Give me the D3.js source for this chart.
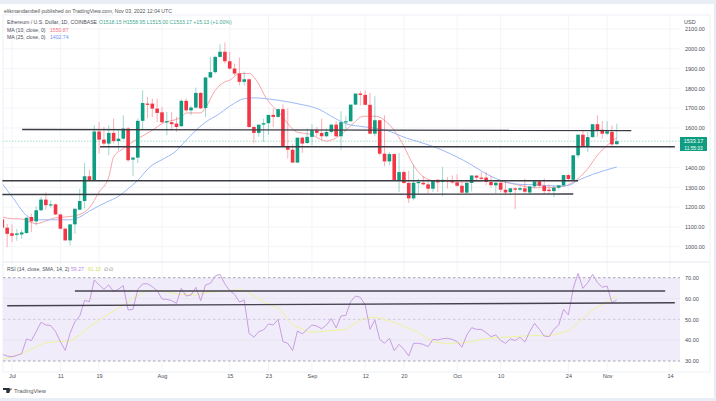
<!DOCTYPE html>
<html>
<head>
<meta charset="utf-8">
<script src="https://cdn.jsdelivr.net/npm/d3@7"></script>
<style>
  html, body { margin: 0; padding: 0; background: #e9edf5; overflow: hidden; }
  svg { display: block; font-family: "Liberation Sans", Arial, sans-serif; }
  .axis path, .axis line { display: none; }
  .axis text { fill: #4a4e59; font-size: 5.5px; font-family: "Liberation Sans", Arial, sans-serif; }
</style>
</head>
<body>
<script>
// days counted from 1 Jul 2022, first candle is 29 Jun
const firstDay = -2

const candleOpen = [
  1138,1096,1068,1060,1062,1069,1150,1128,1184,1238,
  1209,1214,1163,1091,1032,1113,1187,1231,1356,1335,
  1582,1541,1521,1575,1534,1546,1597,1440,1450,1636,
  1723,1723,1698,1679,1628,1629,1622,1609,1737,1689,
  1703,1777,1701,1855,1882,1959,1985,1937,1900,1875,
  1833,1846,1605,1575,1617,1624,1666,1656,1695,1509,
  1490,1425,1551,1524,1555,1588,1575,1558,1580,1617,
  1558,1629,1634,1718,1774,1767,1717,1571,1639,1470,
  1431,1468,1335,1377,1322,1244,1322,1323,1315,1293,
  1338,1327,1337,1335,1325,1308,1273,1322,1359,1349,
  1349,1327,1310,1323,1288,1276,1295,1288,1295,1274,
  1305,1330,1308,1288,1281,1298,1310,1362,1338,1462,
  1566,1509,1554,1619,1591,1571,1580,1518]
const candleHigh = [
  1142,1116,1113,1090,1085,1150,1167,1204,1251,1275,
  1234,1218,1166,1095,1095,1120,1293,1423,1389,1613,
  1630,1605,1613,1647,1588,1664,1605,1453,1647,1790,
  1757,1748,1748,1706,1681,1681,1656,1745,1749,1712,
  1804,1782,1858,1959,1965,2023,2032,1985,1925,1956,
  1885,1850,1610,1580,1647,1647,1698,1698,1720,1698,
  1520,1515,1555,1597,1619,1605,1647,1597,1597,1635,
  1684,1659,1642,1720,1787,1790,1777,1760,1642,1664,
  1478,1472,1474,1385,1383,1411,1344,1357,1335,1335,
  1340,1403,1352,1360,1365,1328,1335,1327,1362,1377,
  1377,1358,1330,1327,1330,1296,1300,1305,1344,1300,
  1307,1338,1345,1314,1310,1305,1312,1367,1367,1470,
  1592,1580,1572,1664,1635,1635,1613,1622,1555]
const candleLow = [
  1090,998,1023,1030,1040,1065,1074,1108,1180,1187,
  1197,1160,1087,1030,1006,1065,1184,1192,1332,1330,
  1470,1512,1462,1521,1487,1541,1430,1357,1423,1592,
  1647,1655,1630,1625,1563,1588,1580,1605,1681,1664,
  1697,1695,1656,1853,1875,1955,1925,1895,1865,1815,
  1815,1600,1524,1555,1529,1565,1605,1652,1505,1445,
  1425,1422,1474,1520,1512,1558,1540,1553,1572,1555,
  1490,1588,1630,1715,1714,1715,1568,1558,1462,1406,
  1411,1332,1276,1318,1221,1235,1268,1310,1271,1277,
  1276,1254,1294,1318,1301,1271,1266,1280,1335,1330,
  1310,1300,1270,1275,1260,1262,1190,1280,1270,1268,
  1295,1300,1268,1270,1250,1290,1304,1330,1335,1450,
  1503,1478,1550,1555,1546,1563,1504,1515]
const candleClose = [
  1096,1065,1055,1067,1072,1146,1128,1184,1238,1210,
  1214,1163,1091,1032,1113,1192,1231,1356,1335,1582,
  1541,1521,1575,1534,1546,1597,1437,1450,1636,1726,
  1720,1698,1676,1629,1634,1619,1605,1737,1689,1703,
  1777,1699,1855,1882,1959,1985,1937,1900,1875,1833,
  1846,1605,1575,1617,1624,1666,1656,1695,1509,1490,
  1425,1551,1521,1555,1588,1575,1558,1580,1617,1558,
  1629,1634,1718,1774,1767,1717,1571,1639,1470,1431,
  1468,1335,1377,1322,1244,1323,1327,1315,1293,1335,
  1325,1338,1334,1325,1308,1273,1322,1360,1349,1347,
  1327,1311,1323,1288,1274,1295,1288,1296,1278,1305,
  1330,1308,1281,1281,1298,1310,1362,1342,1462,1566,
  1509,1554,1619,1588,1571,1583,1517,1533]

// MA values read every few days, day and value kept in two arrays
const ma10Days = [-2,0,2,4,5,7,9,11,14,16,18,20,21,23,26,29,31,35,36,39,40,42,44,45,47,49,50.5,52.6,55.4,57,58.8,61.6,65,67.8,70.5,72.6,75.3,77.4,79.5,80.9,83,85.7,87.7,94.6,98,101,104,108,111,114,117,119,121,123,125]
const ma10Values = [1150,1141,1140,1122,1116,1130,1146,1150,1163,1197,1276,1352,1453,1496,1546,1588,1622,1655,1676,1676,1703,1790,1833,1841,1875,1875,1841,1748,1672,1622,1580,1568,1534,1563,1622,1659,1659,1630,1571,1512,1411,1343,1332,1327,1335,1330,1315,1298,1298,1305,1344,1394,1462,1512,1550]
const ma25Days = [-2,0.3,3,5,8,12,14,16,19.6,22,24,26,28.5,31,33.7,36,38,40.6,42.4,45,48,50,55,59.5,63.6,66,69,73,77.4,81.5,86.4,92,94.6,97.4,101,105,108.4,112.5,115,117,120,125]
const ma25Values = [1318,1243,1158,1136,1136,1136,1150,1180,1226,1254,1293,1335,1403,1440,1479,1538,1588,1639,1664,1710,1748,1752,1740,1720,1693,1659,1622,1605,1588,1549,1512,1453,1419,1377,1335,1315,1313,1306,1310,1335,1365,1403]

const rsiValues = [33.2,32.4,32,32.7,33.5,40.6,39.8,44.1,48.6,47.3,47,44.1,39.3,35.1,43.3,48.9,51.6,59.1,58.5,68.9,66.5,64.4,66.5,63.3,64.4,66.2,54.5,54.8,64.4,67,67.1,65.7,63.8,59.8,59.6,59,57.7,64.9,61.2,61.7,65.4,59,66.5,67.3,70.8,71.6,67,63.8,62,58.3,59.3,43.3,41.4,44.1,44.9,47.8,47.3,50,39.3,38.5,35,44.4,43,45.2,47.3,46.8,45.5,47.3,50.3,45.9,51.6,51.9,58.5,61.2,60.6,56.9,45.2,49.7,40.4,38.5,40.9,35,38,35.6,32.4,38.5,38.5,38,36.9,40.4,40.1,40.7,40.9,40.4,39.3,36.6,42.5,46,45.2,45.2,43.6,41.7,42.5,39.8,38.5,40.6,39.8,41.4,39.1,44.1,48.1,45.2,42,41.7,45.2,47.3,54.8,52.1,64.9,72.1,64.9,67.6,71.6,67.6,65.4,66,58,59.3]
const rsiMaDays = [-2,0,3,6.5,9,12,14,16,19,22,25,28,31,34,38,40,43,46,48,52,55.4,58,61.6,65,69,72.6,75.4,79.5,83.6,87,90,94.6,97.4,101.5,108,111,115,118,120,123,125]
const rsiMaValues = [30.8,32.1,34.5,38.5,39.3,39.6,42.5,46.5,51.3,55.3,60.1,63.8,63.8,62.2,61.7,63,63.3,64.1,64.1,58.5,54.8,47.3,43.8,44.4,45.2,50.5,51,48.1,44.1,39.3,38.2,39,40.6,41.4,42.3,42,44.4,50.5,54.5,58.5,61.2]

// hand drawn lines on the published chart: [day from, price from, day to, price to]
const priceLines = [
  [2.1, 1592, 128, 1587],
  [18.2, 1505, 137, 1505],
  [-2, 1333, 117, 1333],
  [-2, 1264, 116, 1266]
]
const rsiLines = [
  [13, 63.6, 135, 63.6],
  [-1, 56.5, 137, 58]
]

const priceTicks = [1000,1100,1200,1300,1400,1500,1600,1700,1800,1900,2000,2100]
// 1500 sits behind the last price label, so it gets no text
const priceLabels = priceTicks.filter(d => d != 1500)
const rsiTicks = [30,40,50,60,70]
const dayTicks = [0,10,18,31,45,53,62,73,81,92,101,115,123,136]
const dayLabels = ['Jul','11','19','Aug','15','23','Sep','12','20','Oct','10','24','Nov','14']

const width = 716
const height = 401
const plot = {left: 3, right: 680, top: 15, bottom: 262, rsiBottom: 372}

const green = '#0f9d82'
const red = '#f23645'
const textColor = '#4a4e59'
const labelSize = 5.15

const svg = d3.select('body').append('svg')
  .attr('width', width)
  .attr('height', height)

// page and card
svg.append('rect').attr('x', 0).attr('y', 4).attr('width', 714).attr('height', 394).attr('fill', '#fff')
svg.append('rect').attr('x', 3).attr('y', 15).attr('width', 707).attr('height', 357)
  .attr('fill', 'none').attr('stroke', '#eef0f5')

const xScale = d3.scaleLinear().domain([0, 136]).range([12, 670])
const yScale = d3.scaleLinear().domain([1000, 2100]).range([246.7, 29])
const rsiScale = d3.scaleLinear().domain([30, 70]).range([361, 277.7])

const clip = svg.append('clipPath').attr('id', 'plot-clip')
clip.append('rect').attr('x', plot.left).attr('y', plot.top)
  .attr('width', plot.right - plot.left).attr('height', plot.rsiBottom - plot.top)

// grid
const grid = svg.append('g').attr('stroke', '#f3f4f8')
grid.selectAll('line.v')
  .data(dayTicks)
  .enter()
  .append('line')
  .attr('x1', d => xScale(d)).attr('x2', d => xScale(d))
  .attr('y1', plot.top).attr('y2', plot.rsiBottom)
grid.selectAll('line.h')
  .data(priceTicks)
  .enter()
  .append('line')
  .attr('x1', plot.left).attr('x2', plot.right)
  .attr('y1', d => yScale(d)).attr('y2', d => yScale(d))

svg.append('line').attr('x1', 3).attr('x2', 710).attr('y1', plot.bottom).attr('y2', plot.bottom)
  .attr('stroke', '#e6e8ee')

// rsi band
svg.append('rect')
  .attr('x', plot.left).attr('width', plot.right - plot.left)
  .attr('y', rsiScale(70)).attr('height', rsiScale(30) - rsiScale(70))
  .attr('fill', '#f1ecfa')
svg.append('g').selectAll('line')
  .data(rsiTicks)
  .enter()
  .append('line')
  .attr('x1', plot.left).attr('x2', plot.right)
  .attr('y1', d => rsiScale(d)).attr('y2', d => rsiScale(d))
  .attr('stroke', d => d == 50 ? '#cfc8dc' : d == 70 || d == 30 ? '#a8a4b0' : '#e8e6ef')
  .attr('stroke-dasharray', d => d == 40 || d == 60 ? null : '2.5 2.5')

const chart = svg.append('g').attr('clip-path', 'url(#plot-clip)')

// current price line
chart.append('line')
  .attr('x1', plot.left).attr('x2', plot.right)
  .attr('y1', yScale(1533.17)).attr('y2', yScale(1533.17))
  .attr('stroke', '#a9dccf').attr('stroke-dasharray', '1.5 1.5')

// ma lines
const line = d3.line().x(d => xScale(d[0])).y(d => yScale(d[1])).curve(d3.curveMonotoneX)
chart.append('path')
  .attr('d', line(ma10Days.map((d, i) => [d, ma10Values[i]])))
  .attr('fill', 'none').attr('stroke', '#f8a5aa').attr('stroke-width', 1)
chart.append('path')
  .attr('d', line(ma25Days.map((d, i) => [d, ma25Values[i]])))
  .attr('fill', 'none').attr('stroke', '#9db9f7').attr('stroke-width', 1)

// candles
const candles = candleOpen.map((o, i) => ({
  day: firstDay + i, open: o, close: candleClose[i], high: candleHigh[i], low: candleLow[i]
}))
const candleColor = d => d.close >= d.open ? green : red

chart.append('g').selectAll('line')
  .data(candles)
  .enter()
  .append('line')
  .attr('x1', d => xScale(d.day)).attr('x2', d => xScale(d.day))
  .attr('y1', d => yScale(d.high)).attr('y2', d => yScale(d.low))
  .attr('stroke', candleColor).attr('stroke-opacity', 0.4).attr('stroke-width', 1)

chart.append('g').selectAll('rect')
  .data(candles)
  .enter()
  .append('rect')
  .attr('x', d => xScale(d.day) - 1.8)
  .attr('width', 3.6)
  .attr('y', d => yScale(Math.max(d.open, d.close)))
  .attr('height', d => Math.max(1.2, Math.abs(yScale(d.open) - yScale(d.close))))
  .attr('fill', candleColor)

// rsi lines
const rsiLine = d3.line().x(d => xScale(d[0])).y(d => rsiScale(d[1]))
chart.append('path')
  .attr('d', rsiLine(rsiMaDays.map((d, i) => [d, rsiMaValues[i]])))
  .attr('fill', 'none').attr('stroke', '#eef39c').attr('stroke-width', 1)
chart.append('path')
  .attr('d', rsiLine(rsiValues.map((v, i) => [firstDay + i, v])))
  .attr('fill', 'none').attr('stroke', '#c79fe3').attr('stroke-width', 1)

// hand drawn lines
svg.append('g').selectAll('line')
  .data(priceLines)
  .enter()
  .append('line')
  .attr('x1', d => xScale(d[0])).attr('x2', d => xScale(d[2]))
  .attr('y1', d => yScale(d[1])).attr('y2', d => yScale(d[3]))
  .attr('stroke', '#3a3c44').attr('stroke-width', 1.4)
svg.append('g').selectAll('line')
  .data(rsiLines)
  .enter()
  .append('line')
  .attr('x1', d => xScale(d[0])).attr('x2', d => xScale(d[2]))
  .attr('y1', d => rsiScale(d[1])).attr('y2', d => rsiScale(d[3]))
  .attr('stroke', '#45424f').attr('stroke-width', 1.4)

// axes
const fmt = d3.format('.2f')
svg.append('g').attr('class', 'axis')
  .attr('transform', 'translate(678, 0)')
  .call(d3.axisRight(yScale).tickValues(priceLabels).tickFormat(fmt).tickSize(0).tickPadding(7))
svg.append('g').attr('class', 'axis')
  .attr('transform', 'translate(678, 0)')
  .call(d3.axisRight(rsiScale).tickValues(rsiTicks).tickFormat(fmt).tickSize(0).tickPadding(7))
svg.append('g').attr('class', 'axis')
  .attr('transform', 'translate(0, 372)')
  .call(d3.axisBottom(xScale).tickValues(dayTicks).tickFormat((d, i) => dayLabels[i]).tickSize(0).tickPadding(2))

svg.append('text').attr('x', 684).attr('y', 24).attr('font-size', 5.5).attr('fill', textColor).text('USD')

// last price label
svg.append('rect').attr('x', 680).attr('y', 137).attr('width', 27).attr('height', 14).attr('fill', green)
svg.append('text').attr('x', 693.5).attr('y', 143).attr('text-anchor', 'middle').attr('font-size', 5.4).attr('fill', '#fff').text('1533.17')
svg.append('text').attr('x', 693.5).attr('y', 149.5).attr('text-anchor', 'middle').attr('font-size', 4.8).attr('fill', '#fff').text('11:55:33')

// header
svg.append('text').attr('x', 4).attr('y', 12.5).attr('font-size', 5.2).attr('fill', '#555').text('elikmandambell published on TradingView.com, Nov 03, 2022 12:04 UTC')

const legend = svg.append('text').attr('x', 7).attr('y', 24).attr('font-size', labelSize).attr('fill', textColor)
legend.append('tspan').text('Ethereum / U.S. Dollar, 1D, COINBASE')
legend.append('tspan').attr('x', 99).attr('fill', '#3fa98f').text('O1518.15  H1558.95  L1515.00  C1533.17  +15.13 (+1.00%)')

const ma1 = svg.append('text').attr('x', 7).attr('y', 31.5).attr('font-size', labelSize).attr('fill', textColor).text('MA (10, close, 0)')
ma1.append('tspan').attr('x', 50).attr('fill', '#f4717c').text('1550.87')
const ma2 = svg.append('text').attr('x', 7).attr('y', 39).attr('font-size', labelSize).attr('fill', textColor).text('MA (25, close, 0)')
ma2.append('tspan').attr('x', 50).attr('fill', '#6f93ef').text('1402.74')

const rsiLegend = svg.append('text').attr('x', 7).attr('y', 271).attr('font-size', labelSize).attr('fill', textColor).text('RSI (14, close, SMA, 14, 2)')
rsiLegend.append('tspan').attr('x', 71).attr('fill', '#b98ae0').text('59.27')
rsiLegend.append('tspan').attr('x', 88).attr('fill', '#d6de5c').text('61.10')
rsiLegend.append('tspan').attr('x', 104).attr('fill', '#777').text('∅  ∅')

// logo
svg.append('path').attr('d', 'M3 388h5.5v5h-2.2v-3H3zM8.6 388h2.4l-1.8 5h-2zM10.7 388a1 1 0 1 0 .01 0z')
  .attr('fill', '#2a2e39')
svg.append('text').attr('x', 14).attr('y', 393).attr('font-size', 5.8).attr('fill', '#555').text('TradingView')
</script>
</body>
</html>
